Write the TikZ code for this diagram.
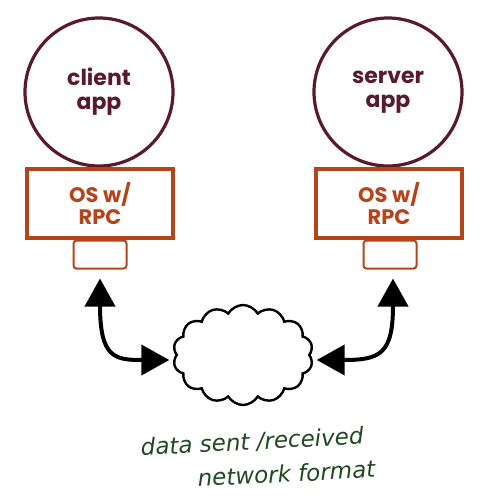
\documentclass[tikz,border=0pt]{standalone}
\usepackage{fontspec}
\setmainfont{Poppins}
\newfontfamily\handfont{DejaVu Sans}
\usetikzlibrary{arrows.meta,shapes.symbols}
\definecolor{appcol}{HTML}{5A1A2E}
\definecolor{oscol}{HTML}{B5441A}
\definecolor{notecol}{HTML}{1F4A1F}
\tikzset{
  appnode/.style={circle,draw=appcol,line width=3.2pt,minimum size=148pt,inner sep=0pt,
    text=appcol,font=\fontsize{22}{22}\selectfont\bfseries,align=center},
  osnode/.style={rectangle,draw=oscol,line width=3.2pt,minimum width=146pt,minimum height=69pt,
    text=oscol,font=\fontsize{21}{22}\selectfont\bfseries,align=center,inner sep=0pt},
  portnode/.style={rectangle,rounded corners=3pt,draw=oscol,line width=2pt,minimum width=53pt,minimum height=28pt,inner sep=0pt},
  netnode/.style={cloud,cloud puffs=14,cloud puff arc=120,aspect=1.35,draw=black,line width=2.4pt,
    minimum width=140pt,minimum height=100pt,inner sep=0pt},
  link/.style={line width=4pt,draw=black,{Triangle[length=28pt,width=30pt]}-{Triangle[length=28pt,width=30pt]}},
  note/.style={text=notecol,font=\handfont\itshape\fontsize{23}{34}\selectfont,rotate=3,align=left}
}
\begin{document}
\begin{tikzpicture}[x=1pt,y=-1pt]
\useasboundingbox (0,0) rectangle (487,498);
\node[appnode] (capp) at (99,92) {client\\[2pt]app};
\node[osnode] (cos) at (100,203.5) {OS w/\\[0pt]RPC};
\node[portnode] (cport) at (100,254.5) {};
\node[appnode] (sapp) at (388,92) {server\\[2pt]app};
\node[osnode] (sos) at (389,203.5) {OS w/\\[0pt]RPC};
\node[portnode] (sport) at (390,254.5) {};
\node[netnode] (net) at (243,355) {};
\draw[link] ([yshift=-9pt]cport.south) .. controls (100,358) and (115,360) .. ([shift={(-6pt,-5pt)}]net.west);
\draw[link] ([shift={(3pt,-9pt)}]sport.south) .. controls (393,354) and (380,360) .. ([shift={(6pt,-5pt)}]net.east);
\node[note] (txt) at (258,458) {data sent /received\\\hspace*{2.4em}network format};
\end{tikzpicture}
\end{document}
